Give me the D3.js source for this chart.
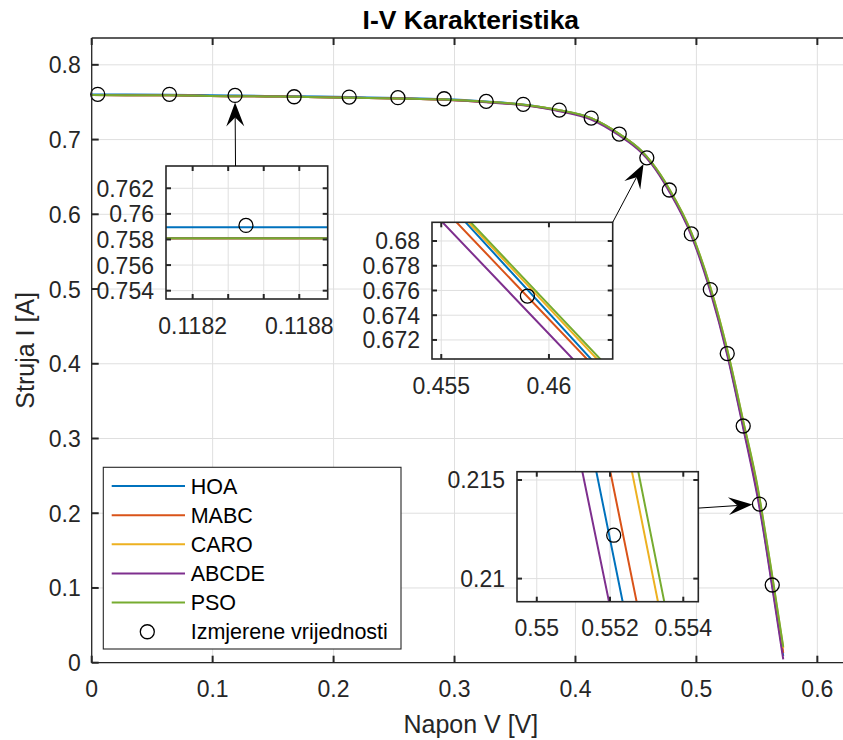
<!DOCTYPE html>
<html><head><meta charset="utf-8">
<script src="https://cdn.jsdelivr.net/npm/d3@7"></script>
<style>body{margin:0;background:#fff}</style>
</head><body>
<svg id="c" width="843" height="740"></svg>
<script>
// ---------- DATA ----------
const seriesNames  = ["HOA", "MABC", "CARO", "ABCDE", "PSO"];
const seriesColors = ["#0072BD", "#D95319", "#EDB120", "#7E2F8E", "#77AC30"];

const vGrid = [0, 0.0643, 0.1180, 0.1190, 0.1674, 0.2129, 0.2532, 0.2914, 0.3262, 0.3568, 0.3866, 0.4130,
               0.4362, 0.4545, 0.4630, 0.4776, 0.4958, 0.5115, 0.5255, 0.5387, 0.5510, 0.5537, 0.5627, 0.5718];

const hoaI   = [0.7603, 0.7600, 0.75895, 0.75895, 0.7580, 0.7568, 0.7557, 0.7542, 0.7510, 0.7470, 0.7393, 0.7285,
                0.7072, 0.68461, 0.66847, 0.6325, 0.5737, 0.4993, 0.4140, 0.3167, 0.22117, 0.19639, 0.1045, 0.0090];
const mabcI  = [0.7595, 0.7592, 0.75809, 0.75809, 0.7572, 0.7560, 0.7549, 0.7534, 0.7502, 0.7462, 0.7386, 0.7278,
                0.7065, 0.68372, 0.66820, 0.6320, 0.5735, 0.4995, 0.4146, 0.3189, 0.22467, 0.19989, 0.1086, 0.0132];
const caroI  = [0.7595, 0.7592, 0.75809, 0.75809, 0.7572, 0.7560, 0.7549, 0.7535, 0.7504, 0.7466, 0.7391, 0.7285,
                0.7074, 0.68477, 0.66903, 0.6334, 0.5753, 0.5023, 0.4183, 0.3228, 0.23028, 0.20519, 0.1148, 0.0195];
const abcdeI = [0.7595, 0.7592, 0.75809, 0.75809, 0.7572, 0.7560, 0.7549, 0.7533, 0.7500, 0.7458, 0.7380, 0.7269,
                0.7054, 0.68253, 0.66701, 0.6303, 0.5716, 0.4967, 0.4117, 0.3138, 0.21763, 0.19319, 0.1008, 0.0045];
const psoI   = [0.7595, 0.7592, 0.75809, 0.75809, 0.7572, 0.7560, 0.7549, 0.7535, 0.7505, 0.7467, 0.7392, 0.7286,
                0.7076, 0.68495, 0.66932, 0.6338, 0.5758, 0.5028, 0.4190, 0.3236, 0.23189, 0.20679, 0.1164, 0.0212];

const measV = [0.0050, 0.0643, 0.1185, 0.1674, 0.2129, 0.2532, 0.2914, 0.3262, 0.3568, 0.3866,
               0.4130, 0.4362, 0.4590, 0.4776, 0.4958, 0.5115, 0.5255, 0.5387, 0.5521, 0.5627];
const measI = [0.7605, 0.7605, 0.7591, 0.7573, 0.7569, 0.7560, 0.7546, 0.7511, 0.7471, 0.7395,
               0.7288, 0.7074, 0.67555, 0.6325, 0.5737, 0.4993, 0.4137, 0.3167, 0.2122, 0.1040];

const xTickValues = [0, 0.1, 0.2, 0.3, 0.4, 0.5, 0.6];
const yTickValues = [0, 0.1, 0.2, 0.3, 0.4, 0.5, 0.6, 0.7, 0.8];

const inset1XLim = [0.11805, 0.11896], inset1YLim = [0.75335, 0.76374];
const inset1XTicks = [0.1182, 0.1184, 0.1186, 0.1188];
const inset1XLabels = ["0.1182", "", "", "0.1188"];
const inset1YTicks = [0.754, 0.756, 0.758, 0.760, 0.762];

const inset2XLim = [0.45457, 0.46296], inset2YLim = [0.67046, 0.68151];
const inset2XTicks = [0.455, 0.46];
const inset2YTicks = [0.672, 0.674, 0.676, 0.678, 0.68];

const inset3XLim = [0.54946, 0.55441], inset3YLim = [0.20883, 0.21542];
const inset3XTicks = [0.55, 0.552, 0.554];
const inset3YTicks = [0.21, 0.215];

const legendLabel = "Izmjerene vrijednosti";
const titleText = "I-V Karakteristika";
const xLabelText = "Napon V [V]";
const yLabelText = "Struja I [A]";

// ---------- DRAW ----------
const FONT = "'Liberation Sans', Arial, Helvetica, sans-serif";
const AX = "#262626", GRID = "#dfdfdf";
const seriesI = [hoaI, mabcI, caroI, abcdeI, psoI];
const svg = d3.select("#c");
svg.append("rect").attr("width", 843).attr("height", 740).attr("fill", "#fff");

const fmt = v => String(+v.toFixed(6));

const x = d3.scaleLinear().domain([0, 0.627]).range([91.7, 850]);
const y = d3.scaleLinear().domain([0, 0.8359]).range([662.7, 38]);
const [L, R] = x.range(), [B, T] = y.range();

const defs = svg.append("defs");
defs.append("clipPath").attr("id", "mainclip").append("rect")
  .attr("x", L).attr("y", T).attr("width", R - L).attr("height", B - T);

// grid
const g = svg.append("g");
g.selectAll(".gx").data(xTickValues).join("line")
  .attr("x1", d => x(d)).attr("x2", d => x(d)).attr("y1", T).attr("y2", B)
  .attr("stroke", GRID).attr("stroke-width", 1);
g.selectAll(".gy").data(yTickValues).join("line")
  .attr("y1", d => y(d)).attr("y2", d => y(d)).attr("x1", L).attr("x2", R)
  .attr("stroke", GRID).attr("stroke-width", 1);

// lines
const mainLine = d3.line().x(d => x(d[0])).y(d => y(d[1])).curve(d3.curveMonotoneX);
const lg = svg.append("g").attr("clip-path", "url(#mainclip)");
seriesI.forEach((arr, k) => {
  lg.append("path").datum(vGrid.map((v, i) => [v, arr[i]]))
    .attr("d", mainLine).attr("fill", "none")
    .attr("stroke", seriesColors[k]).attr("stroke-width", 2);
});
// markers
const R_M = 7;
svg.append("g").selectAll("circle").data(measV.map((v, i) => [v, measI[i]])).join("circle")
  .attr("cx", d => x(d[0])).attr("cy", d => y(d[1])).attr("r", R_M)
  .attr("fill", "none").attr("stroke", "#000").attr("stroke-width", 1.3);

// axes box
const ax = svg.append("g").attr("stroke", AX).attr("stroke-width", 1.3);
ax.append("line").attr("x1", L).attr("x2", R).attr("y1", B).attr("y2", B);
ax.append("line").attr("x1", L).attr("x2", R).attr("y1", T).attr("y2", T);
ax.append("line").attr("x1", L).attr("x2", L).attr("y1", T).attr("y2", B);
ax.append("line").attr("x1", R).attr("x2", R).attr("y1", T).attr("y2", B);
const TL = 7;
xTickValues.forEach(v => {
  ax.append("line").attr("x1", x(v)).attr("x2", x(v)).attr("y1", B).attr("y2", B - TL).attr("stroke-width", 2);
  ax.append("line").attr("x1", x(v)).attr("x2", x(v)).attr("y1", T).attr("y2", T + TL).attr("stroke-width", 2);
});
yTickValues.forEach(v => {
  ax.append("line").attr("y1", y(v)).attr("y2", y(v)).attr("x1", L).attr("x2", L + TL).attr("stroke-width", 2);
  ax.append("line").attr("y1", y(v)).attr("y2", y(v)).attr("x1", R).attr("x2", R - TL).attr("stroke-width", 2);
});
const tl = svg.append("g").attr("font-family", FONT).attr("font-size", 23).attr("fill", AX);
xTickValues.forEach(v => tl.append("text").attr("x", x(v)).attr("y", B + 34.5)
  .attr("text-anchor", "middle").text(fmt(v)));
yTickValues.forEach(v => tl.append("text").attr("x", L - 11).attr("y", y(v) + 8.5)
  .attr("text-anchor", "end").text(fmt(v)));

// title and labels
svg.append("text").attr("x", (L + R) / 2).attr("y", 28.5).attr("text-anchor", "middle")
  .attr("font-family", FONT).attr("font-size", 26.5).attr("font-weight", "bold").attr("fill", "#000").text(titleText);
svg.append("text").attr("x", (L + R) / 2).attr("y", 733).attr("text-anchor", "middle")
  .attr("font-family", FONT).attr("font-size", 25).attr("fill", AX).text(xLabelText);
svg.append("text").attr("transform", `translate(34,${(T + B) / 2}) rotate(-90)`).attr("text-anchor", "middle")
  .attr("font-family", FONT).attr("font-size", 25).attr("fill", AX).text(yLabelText);

// ---------- INSETS ----------
function drawInset(id, box, xLim, yLim, xTicks, xLabels, yTicks) {
  const ix = d3.scaleLinear().domain(xLim).range([box.left, box.left + box.w]);
  const iy = d3.scaleLinear().domain(yLim).range([box.top + box.h, box.top]);
  const gi = svg.append("g");
  gi.append("rect").attr("x", box.left).attr("y", box.top).attr("width", box.w).attr("height", box.h).attr("fill", "#fff");
  defs.append("clipPath").attr("id", id).append("rect")
    .attr("x", box.left).attr("y", box.top).attr("width", box.w).attr("height", box.h);
  const inner = gi.append("g").attr("clip-path", `url(#${id})`);
  xTicks.forEach(v => inner.append("line").attr("x1", ix(v)).attr("x2", ix(v))
    .attr("y1", box.top).attr("y2", box.top + box.h).attr("stroke", GRID));
  yTicks.forEach(v => inner.append("line").attr("y1", iy(v)).attr("y2", iy(v))
    .attr("x1", box.left).attr("x2", box.left + box.w).attr("stroke", GRID));
  const ln = d3.line().x(d => ix(d[0])).y(d => iy(d[1]));
  seriesI.forEach((arr, k) => {
    inner.append("path").datum(vGrid.map((v, i) => [v, arr[i]])).attr("d", ln)
      .attr("fill", "none").attr("stroke", seriesColors[k]).attr("stroke-width", 2);
  });
  measV.forEach((v, i) => {
    if (v >= xLim[0] && v <= xLim[1] && measI[i] >= yLim[0] && measI[i] <= yLim[1])
      inner.append("circle").attr("cx", ix(v)).attr("cy", iy(measI[i])).attr("r", R_M)
        .attr("fill", "none").attr("stroke", "#000").attr("stroke-width", 1.3);
  });
  const bx = gi.append("g").attr("stroke", AX);
  const b = box.top + box.h, r = box.left + box.w, t = 5;
  xTicks.forEach(v => {
    bx.append("line").attr("x1", ix(v)).attr("x2", ix(v)).attr("y1", b).attr("y2", b - t).attr("stroke-width", 2);
    bx.append("line").attr("x1", ix(v)).attr("x2", ix(v)).attr("y1", box.top).attr("y2", box.top + t).attr("stroke-width", 2);
  });
  yTicks.forEach(v => {
    bx.append("line").attr("y1", iy(v)).attr("y2", iy(v)).attr("x1", box.left).attr("x2", box.left + t).attr("stroke-width", 2);
    bx.append("line").attr("y1", iy(v)).attr("y2", iy(v)).attr("x1", r).attr("x2", r - t).attr("stroke-width", 2);
  });
  bx.append("rect").attr("x", box.left).attr("y", box.top).attr("width", box.w).attr("height", box.h)
    .attr("fill", "none").attr("stroke-width", 1.6);
  const tt = gi.append("g").attr("font-family", FONT).attr("font-size", 23).attr("fill", AX);
  xTicks.forEach((v, i) => tt.append("text").attr("x", ix(v)).attr("y", b + 34.5)
    .attr("text-anchor", "middle").text(xLabels ? xLabels[i] : fmt(v)));
  yTicks.forEach(v => tt.append("text").attr("x", box.left - 12).attr("y", iy(v) + 8.5)
    .attr("text-anchor", "end").text(fmt(v)));
  return { ix, iy };
}
const box1 = { left: 166, top: 166, w: 161.7, h: 133 };
const box2 = { left: 432, top: 222.3, w: 180.7, h: 136.7 };
const box3 = { left: 517, top: 471.7, w: 181.3, h: 130 };
drawInset("in1", box1, inset1XLim, inset1YLim, inset1XTicks, inset1XLabels, inset1YTicks);
drawInset("in2", box2, inset2XLim, inset2YLim, inset2XTicks, null, inset2YTicks);
drawInset("in3", box3, inset3XLim, inset3YLim, inset3XTicks, null, inset3YTicks);

// ---------- ARROWS ----------
function arrow(tail, target) {
  const cx = x(target[0]), cy = y(target[1]);
  let dx = cx - tail[0], dy = cy - tail[1];
  const len = Math.hypot(dx, dy); dx /= len; dy /= len;
  const tip = [cx - R_M * dx, cy - R_M * dy];
  const HL = 24, HW = 9, NOTCH = 15;
  const back = [tip[0] - HL * dx, tip[1] - HL * dy];
  const nx = -dy, ny = dx;
  const notch = [tip[0] - NOTCH * dx, tip[1] - NOTCH * dy];
  svg.append("line").attr("x1", tail[0]).attr("y1", tail[1]).attr("x2", notch[0]).attr("y2", notch[1])
    .attr("stroke", "#000").attr("stroke-width", 1);
  svg.append("path").attr("d", `M${tip}L${back[0] + HW * nx},${back[1] + HW * ny}L${notch}L${back[0] - HW * nx},${back[1] - HW * ny}Z`)
    .attr("fill", "#000");
}
arrow([box1.left + 0.43 * box1.w, box1.top], [measV[2], measI[2]]);
arrow([box2.left + box2.w, box2.top], [measV[12], measI[12]]);
arrow([box3.left + box3.w, box3.top + 0.28 * box3.h], [measV[18], measI[18]]);

// ---------- LEGEND ----------
const lgd = svg.append("g");
lgd.append("rect").attr("x", 103.3).attr("y", 467.3).attr("width", 297.7).attr("height", 181.7)
  .attr("fill", "#fff").attr("stroke", AX).attr("stroke-width", 1.1);
const labels = seriesNames.concat([legendLabel]);
labels.forEach((name, i) => {
  const cy = 486 + i * 29.15;
  if (i < seriesNames.length) {
    lgd.append("line").attr("x1", 111.7).attr("x2", 185).attr("y1", cy).attr("y2", cy)
      .attr("stroke", seriesColors[i]).attr("stroke-width", 2);
  } else {
    lgd.append("circle").attr("cx", 147.3).attr("cy", cy).attr("r", R_M)
      .attr("fill", "none").attr("stroke", "#000").attr("stroke-width", 1.3);
  }
  lgd.append("text").attr("x", 190.7).attr("y", cy + 7.5).attr("font-family", FONT)
    .attr("font-size", 21.5).attr("fill", "#000").text(name);
});
</script>
</body></html>
